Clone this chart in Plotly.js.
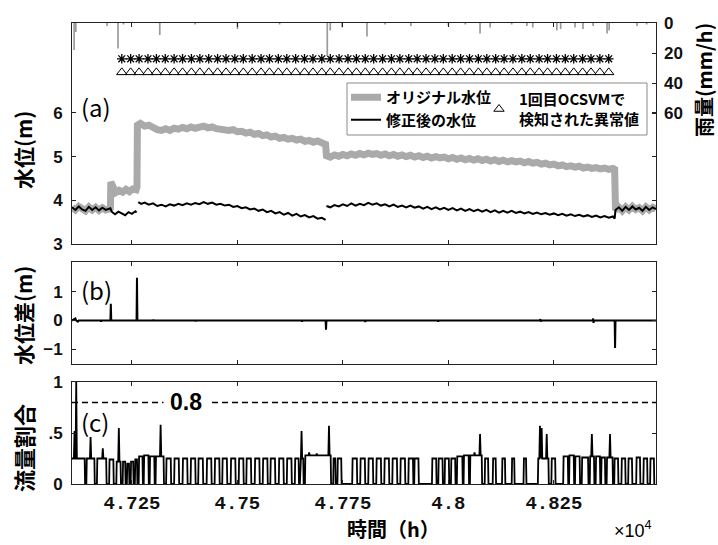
<!DOCTYPE html>
<html>
<head>
<meta charset="utf-8">
<script src="https://cdn.plot.ly/plotly-3.0.1.min.js"></script>
<style>
  html, body { margin: 0; padding: 0; background: #fff; }
  #chart { width: 718px; height: 545px; }
</style>
</head>
<body>
<div id="chart"></div>
<script>
// ---------------- DATA ----------------
// x tick labels (hours ×10^4)
const xTickVals = [47250, 47500, 47750, 48000, 48250];
const xTickText = ['4.725', '4.75', '4.775', '4.8', '4.825'];

// (a) original water level (m)
const origHour = [47108,47116,47124,47132,47140,47148,47156,47164,47172,47180,47188,47196,47199,47200,47204,47212,47220,47228,47236,47244,47252,47260,47262,
  47263,47270,47280,47290,47300,47310,47320,47330,47340,47350,47360,47370,47380,47390,47400,47410,47420,47430,47440,47450,47460,47470,47480,47490,
  47500,47510,47520,47530,47540,47550,47560,47570,47580,47590,47600,47610,47620,47630,47640,47650,47660,47670,47680,47690,47700,47709,
  47711,47720,47730,47740,47750,47760,47770,47780,47790,47800,47810,47820,47830,47840,47850,47860,47870,47880,47890,47900,47910,47920,47930,47940,47950,47960,47970,47980,47990,
  48000,48010,48020,48030,48040,48050,48060,48070,48080,48090,48100,48110,48120,48130,48140,48150,48160,48170,48180,48190,48200,48210,48220,48230,48240,48250,48260,48270,48280,48290,
  48300,48310,48320,48330,48340,48350,48360,48370,48380,48390,48394,
  48396,48404,48412,48420,48428,48436,48444,48452,48460,48468,48476,48484,48492];
const origLevel = [3.84,3.78,3.86,3.79,3.76,3.85,3.78,3.84,3.77,3.83,3.78,3.80,3.82,4.42,4.30,4.18,4.23,4.19,4.25,4.20,4.26,4.24,4.30,
  5.72,5.76,5.70,5.72,5.66,5.62,5.60,5.64,5.60,5.65,5.63,5.67,5.64,5.68,5.65,5.66,5.70,5.66,5.68,5.64,5.62,5.64,5.60,5.62,
  5.57,5.58,5.54,5.56,5.51,5.53,5.48,5.50,5.45,5.47,5.42,5.44,5.40,5.42,5.38,5.40,5.35,5.37,5.33,5.36,5.32,5.28,
  5.02,4.99,5.04,5.01,5.05,5.02,5.06,5.03,5.07,5.04,5.08,5.05,5.07,5.03,5.06,5.02,5.05,5.01,5.04,5.00,5.03,4.99,5.02,4.98,5.01,4.97,5.00,4.97,4.99,
  4.95,4.98,4.94,4.97,4.93,4.96,4.92,4.95,4.91,4.94,4.90,4.93,4.89,4.92,4.88,4.91,4.88,4.90,4.86,4.89,4.85,4.87,4.83,4.85,4.81,4.83,4.79,4.81,4.77,4.79,
  4.76,4.78,4.74,4.76,4.73,4.75,4.72,4.74,4.71,4.73,4.71,
  3.78,3.84,3.76,3.85,3.78,3.86,3.79,3.83,3.76,3.85,3.78,3.84,3.80];

// (a) corrected water level (m); null = break in the line
const corrHour = [47108,47116,47124,47132,47140,47148,47156,47164,47172,47180,47188,47196,47199,
  47202,47210,47218,47226,47234,47242,47250,47258,47261,47262,
  47265,47272,47280,47290,47300,47310,47320,47330,47340,47350,47360,47370,47380,47390,47400,47410,47420,47430,47440,47450,47460,47470,47480,47490,
  47500,47510,47520,47530,47540,47550,47560,47570,47580,47590,47600,47610,47620,47630,47640,47650,47660,47670,47680,47690,47700,47709,47710,
  47711,47720,47730,47740,47750,47760,47770,47780,47790,47800,47810,47820,47830,47840,47850,47860,47870,47880,47890,47900,47910,47920,47930,47940,47950,47960,47970,47980,47990,
  48000,48010,48020,48030,48040,48050,48060,48070,48080,48090,48100,48110,48120,48130,48140,48150,48160,48170,48180,48190,48200,48210,48220,48230,48240,48250,48260,48270,48280,48290,
  48300,48310,48320,48330,48340,48350,48360,48370,48380,48390,48394,
  48396,48404,48412,48420,48428,48436,48444,48452,48460,48468,48476,48484,48492];
const corrLevel = [3.84,3.78,3.86,3.79,3.76,3.85,3.78,3.84,3.77,3.83,3.78,3.80,3.82,
  3.74,3.68,3.74,3.70,3.66,3.73,3.69,3.75,3.72,null,
  3.96,3.92,3.95,3.90,3.93,3.87,3.90,3.86,3.91,3.88,3.92,3.89,3.93,3.90,3.94,3.91,3.96,3.92,3.95,3.90,3.92,3.88,3.90,3.85,
  3.87,3.82,3.84,3.79,3.81,3.76,3.79,3.73,3.76,3.70,3.73,3.67,3.71,3.65,3.69,3.63,3.66,3.61,3.64,3.58,3.60,3.55,null,
  3.87,3.84,3.89,3.86,3.91,3.87,3.93,3.88,3.92,3.89,3.94,3.90,3.93,3.88,3.91,3.86,3.90,3.85,3.88,3.84,3.88,3.83,3.86,3.81,3.85,3.80,3.84,3.79,3.83,
  3.78,3.82,3.77,3.81,3.76,3.80,3.75,3.79,3.74,3.78,3.73,3.77,3.72,3.76,3.72,3.76,3.71,3.74,3.70,3.73,3.69,3.72,3.68,3.71,3.67,3.70,3.66,3.69,3.65,3.68,
  3.64,3.67,3.63,3.66,3.62,3.65,3.61,3.64,3.60,3.63,3.58,
  3.78,3.84,3.76,3.85,3.78,3.86,3.79,3.83,3.76,3.85,3.78,3.84,3.80];

// (a) detected anomaly markers (hours) and their plotting heights (m)
const anomalyHour = [47226,47247,47267,47288,47308,47329,47350,47370,47391,47411,47432,47453,47473,47494,47514,47535,47556,47576,47597,47617,
  47638,47659,47679,47700,47720,47741,47762,47782,47803,47823,47844,47865,47885,47906,47926,47947,47968,47988,48009,48029,
  48050,48071,48091,48112,48132,48153,48174,48194,48215,48235,48256,48277,48297,48318,48338,48359,48380];
const starLevel = 7.24;
const triLevel = 6.93;

// (a) rainfall (mm/h), right axis, reversed
const rainHour = [47113,47117,47191,47217,47230,47316,47400,47500,47600,47713,47720,47748,47807,47850,47911,48000,48040,48075,48099,48150,48186,48200,48257,48266,48300,48319,48343,48376,48381,48447,48470];
const rainMm   = [18,6,2,17,1,8,1,4,1,22,5,3,9,1,2,2,1,7,3,1,2,3,5,4,3,4,2,7,5,2,1];

// (b) water level difference (m)
const diffHour = [47108,47116,47118,47122,47124,47176,47177,47178,47199,47200,47201,47261,47262,47263,47300,47301,47302,47400,47401,47402,
  47652,47653,47654,47709,47710,47711,47802,47803,47804,47975,47976,47977,48217,48218,48219,48220,48342,48343,48344,48345,48394,48395,48396,48492];
const diffVal  = [0,0.07,0,-0.04,0,0,-0.04,0,0,0.58,0,0,1.48,0,0,0.03,0,0,-0.03,0,
  0,-0.04,0,0,-0.32,0,0,-0.05,0,0,-0.04,0,0,0.05,-0.04,0,0,0.07,-0.08,0,0,-0.95,0,0];

// (c) flow ratio: pulses (start hour, end hour, level) and spikes on top of them
const pulseOn = [47100,47142,47167,47196,47213,47228,47238,47247,47257,47266,47278,47292,47306,
  47331,47350,47370,47389,47407,47427,47446,47464,47484,47503,47521,47541,47560,47578,47598,47617,
  47636,47648,47660,47727,47737,
  47772,47791,47810,47829,47848,47867,47886,47905,47919,
  47961,47976,47991,48006,48020,48036,48051,
  48086,48105,48127,48150,48178,48212,
  48244,48272,48286,48300,48316,48335,48349,48362,48375,48393,48410,48426,48445,48462,48478];
const pulseOff = [47139,47162,47190,47207,47224,47235,47244,47254,47263,47276,47290,47304,47326,
  47343,47362,47382,47401,47419,47439,47458,47476,47496,47515,47533,47553,47572,47590,47610,47629,
  47646,47657,47722,47733,47747,
  47784,47803,47822,47841,47860,47879,47898,47917,47930,
  47972,47987,48002,48017,48034,48049,48080,
  48095,48113,48135,48157,48185,48238,
  48254,48284,48298,48312,48332,48346,48360,48372,48390,48403,48420,48436,48455,48472,48488];
const pulseLevel = [0.25,0.25,0.25,0.24,0.22,0.22,0.20,0.22,0.24,0.27,0.28,0.27,0.27,
  0.25,0.25,0.25,0.25,0.25,0.25,0.25,0.25,0.25,0.25,0.25,0.25,0.25,0.25,0.25,0.25,
  0.25,0.25,0.28,0.25,0.25,
  0.25,0.25,0.25,0.25,0.25,0.25,0.25,0.25,0.25,
  0.25,0.25,0.25,0.25,0.27,0.28,0.28,
  0.25,0.25,0.25,0.25,0.25,0.25,
  0.25,0.27,0.28,0.27,0.26,0.27,0.27,0.26,0.26,0.25,0.25,0.25,0.26,0.25,0.25];
const spikeHour  = [47114,47118,47152,47181,47219,47318,47652,47670,47688,47717,48062,48075,48217,48221,48233,48340,48383];
const spikeValue = [0.52,1.00,0.46,0.35,0.55,0.58,0.52,0.31,0.30,0.57,0.31,0.49,0.57,0.55,0.49,0.49,0.49];
const thresholdValue = 0.8;

// ---------------- BUILD ----------------
const flowHour = [], flowRatio = [];
for (let i = 0; i < pulseOn.length; i++) {
  const on = pulseOn[i], off = pulseOff[i], lv = pulseLevel[i];
  flowHour.push(on, on + 1); flowRatio.push(0, lv);
  for (let k = 0; k < spikeHour.length; k++) {
    const s = spikeHour[k];
    if (s > on && s < off) {
      flowHour.push(s - 1.5, s, s + 1.5);
      flowRatio.push(lv, spikeValue[k], lv);
    }
  }
  flowHour.push(off - 1, off); flowRatio.push(lv, 0);
}

// ---------------- LAYOUT HELPERS ----------------
const L = 72, R = 656, T = 23, B = 484;
const W = R - L, H = B - T;
const px = x => (x - L) / W;
const py = y => (B - y) / H;

const CJK = '"Noto Sans CJK JP", "Noto Sans", sans-serif';
const SANS = '"Liberation Sans", Arial, sans-serif';
const MONO = '"Liberation Mono", "DejaVu Sans Mono", monospace';
const AX = '#222';
const xRange = [47108, 48492];

const axisCommon = {
  range: xRange, ticks: 'inside', ticklen: 4, tickcolor: AX, tickwidth: 1,
  showline: true, linecolor: AX, linewidth: 1, mirror: 'ticks',
  showgrid: false, zeroline: false, tickvals: xTickVals, ticktext: xTickText
};
const yTickFont = { family: SANS, size: 17, color: '#111', weight: 'bold' };

const traces = [
  { x: rainHour, y: rainMm, type: 'bar', xaxis: 'x3', yaxis: 'y4', width: 4,
    marker: { color: '#9a9a9a', line: { width: 0 } }, showlegend: false, hoverinfo: 'skip' },
  { x: origHour, y: origLevel, type: 'scatter', mode: 'lines', xaxis: 'x3', yaxis: 'y3',
    name: 'オリジナル水位', legend: 'legend',
    line: { color: '#aaaaaa', width: 7 } },
  { x: corrHour, y: corrLevel, type: 'scatter', mode: 'lines', xaxis: 'x3', yaxis: 'y3',
    name: '修正後の水位', legend: 'legend', connectgaps: false,
    line: { color: '#000', width: 2 } },
  { x: anomalyHour, y: anomalyHour.map(() => starLevel), type: 'scatter', mode: 'markers', xaxis: 'x3', yaxis: 'y3',
    showlegend: false, marker: { symbol: 'asterisk-open', size: 8, color: '#000', line: { color: '#000', width: 1.3 } } },
  { x: anomalyHour, y: anomalyHour.map(() => triLevel), type: 'scatter', mode: 'markers', xaxis: 'x3', yaxis: 'y3',
    name: '1回目OCSVMで<br>検知された異常値', legend: 'legend2',
    marker: { symbol: 'triangle-up-open', size: 9, color: '#000', line: { color: '#000', width: 1 } } },
  { x: diffHour, y: diffVal, type: 'scatter', mode: 'lines', xaxis: 'x2', yaxis: 'y2',
    showlegend: false, line: { color: '#000', width: 2 } },
  { x: flowHour, y: flowRatio, type: 'scatter', mode: 'lines', xaxis: 'x', yaxis: 'y',
    showlegend: false, line: { color: '#000', width: 1.8 } }
];

const layout = {
  width: 718, height: 545,
  margin: { l: L, r: 718 - R, t: T, b: 545 - B },
  paper_bgcolor: '#fff', plot_bgcolor: '#fff',
  font: { family: SANS, color: AX },
  showlegend: true,
  xaxis: Object.assign({}, axisCommon, { anchor: 'y', domain: [0, 1],
    tickfont: { family: MONO, size: 19, color: '#111', weight: 'bold' }, ticklabelstandoff: 1 }),
  xaxis2: Object.assign({}, axisCommon, { anchor: 'y2', domain: [0, 1], showticklabels: false, matches: 'x' }),
  xaxis3: Object.assign({}, axisCommon, { anchor: 'y3', domain: [0, 1], showticklabels: false, matches: 'x' }),
  yaxis: { domain: [0, py(382)], range: [0, 1], tickvals: [0, 0.5, 1], ticktext: ['0', '.5', '1'],
    ticks: 'inside', ticklen: 4, tickcolor: AX, showline: true, linecolor: AX, mirror: 'ticks',
    showgrid: false, zeroline: false, tickfont: yTickFont, ticklabelstandoff: 5 },
  yaxis2: { domain: [py(364), py(262)], range: [-1.5, 2.02], tickvals: [-1, 0, 1],
    ticks: 'inside', ticklen: 4, tickcolor: AX, showline: true, linecolor: AX, mirror: 'ticks',
    showgrid: false, zeroline: false, tickfont: yTickFont, ticklabelstandoff: 5 },
  yaxis3: { domain: [py(244), 1], range: [3, 8.06], tickvals: [3, 4, 5, 6],
    ticks: 'inside', ticklen: 4, tickcolor: AX, showline: true, linecolor: AX, mirror: 'ticks',
    showgrid: false, zeroline: false, tickfont: yTickFont, ticklabelstandoff: 5 },
  yaxis4: { overlaying: 'y3', side: 'right', anchor: 'x3', range: [147.3, 0], tickvals: [0, 20, 40, 60],
    ticks: 'inside', ticklen: 4, tickcolor: AX, showline: false, showgrid: false, zeroline: false,
    tickfont: yTickFont, ticklabelstandoff: 7 },
  legend: { x: px(346), y: py(81), xanchor: 'left', yanchor: 'top', bgcolor: 'rgba(0,0,0,0)',
    borderwidth: 0, font: { family: CJK, size: 15, color: '#000', weight: 'bold' }, tracegroupgap: 0 },
  legend2: { x: px(479), y: py(83), xanchor: 'left', yanchor: 'top', bgcolor: 'rgba(0,0,0,0)',
    borderwidth: 0, font: { family: CJK, size: 15, color: '#000', weight: 'bold' } },
  shapes: [
    { type: 'rect', xref: 'paper', yref: 'paper', x0: px(347), x1: px(647), y0: py(135), y1: py(83),
      line: { color: '#8a8a8a', width: 1 }, fillcolor: 'rgba(255,255,255,0)', layer: 'above' },
    { type: 'line', xref: 'x', yref: 'y', x0: xRange[0], x1: xRange[1], y0: thresholdValue, y1: thresholdValue,
      line: { color: '#000', width: 1.5, dash: '6px,4px' }, layer: 'below' }
  ],
  annotations: [
    { text: '(a)', xref: 'paper', yref: 'paper', x: px(79), y: py(106), xanchor: 'left', yanchor: 'middle',
      showarrow: false, font: { family: CJK, size: 24, color: '#000' } },
    { text: '(b)', xref: 'paper', yref: 'paper', x: px(79), y: py(289), xanchor: 'left', yanchor: 'middle',
      showarrow: false, font: { family: CJK, size: 24, color: '#000' } },
    { text: '(c)', xref: 'paper', yref: 'paper', x: px(79), y: py(421), xanchor: 'left', yanchor: 'middle',
      showarrow: false, font: { family: CJK, size: 24, color: '#000' } },
    { text: '0.8', xref: 'paper', yref: 'y', x: px(186), y: thresholdValue, xanchor: 'center', yanchor: 'middle',
      showarrow: false, bgcolor: '#fff', borderpad: 6, font: { family: SANS, size: 23, color: '#000', weight: 'bold' } },
    { text: '×10<sup>4</sup>', xref: 'paper', yref: 'paper', x: px(654), y: py(529), xanchor: 'right', yanchor: 'middle',
      showarrow: false, font: { family: SANS, size: 18, color: '#000' } },
    { text: '時間（h）', xref: 'paper', yref: 'paper', x: px(393), y: py(528), xanchor: 'center', yanchor: 'middle',
      showarrow: false, font: { family: CJK, size: 20, color: '#000', weight: 'bold' } },
    { text: '水位(m)', xref: 'paper', yref: 'paper', x: px(23), y: py(150), xanchor: 'center', yanchor: 'middle',
      textangle: -90, showarrow: false, font: { family: CJK, size: 21, color: '#000', weight: 'bold' } },
    { text: '水位差(m)', xref: 'paper', yref: 'paper', x: px(23), y: py(316), xanchor: 'center', yanchor: 'middle',
      textangle: -90, showarrow: false, font: { family: CJK, size: 21, color: '#000', weight: 'bold' } },
    { text: '流量割合', xref: 'paper', yref: 'paper', x: px(23), y: py(448), xanchor: 'center', yanchor: 'middle',
      textangle: -90, showarrow: false, font: { family: CJK, size: 22, color: '#000', weight: 'bold' } },
    { text: '雨量(mm/h)', xref: 'paper', yref: 'paper', x: px(703), y: py(80), xanchor: 'center', yanchor: 'middle',
      textangle: -90, showarrow: false, font: { family: CJK, size: 20, color: '#000', weight: 'bold' } }
  ]
};

Plotly.newPlot('chart', traces, layout, { displayModeBar: false, staticPlot: true });
</script>
</body>
</html>
